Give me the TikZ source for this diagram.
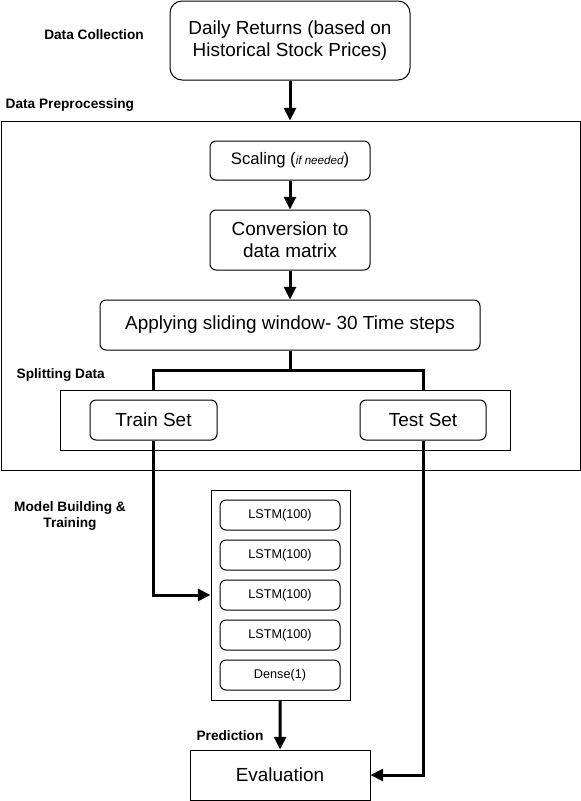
\documentclass[tikz,border=0pt]{standalone}
\usepackage{fontspec}
\setmainfont{Liberation Sans}
\usetikzlibrary{arrows.meta}

\begin{document}
\begin{tikzpicture}[x=0.75pt, y=-0.75pt,
		box/.style={draw, line width=0.75pt, rounded corners=4.5pt, align=center, inner sep=0pt, font=\fontsize{14.2}{16.5}\selectfont},
		frame/.style={draw, line width=0.75pt, inner sep=0pt},
		tag/.style={font=\fontsize{10.25}{12}\selectfont\bfseries, align=center},
		flow/.style={line width=2.25pt, -{Triangle[length=9.5pt, width=9pt]}},
		link/.style={line width=2.25pt}]
					\useasboundingbox (0,0) rectangle (581,801);

					\begin{scope}
						\node[box, rounded corners=9pt, minimum width=180pt, minimum height=59.25pt] (daily) at (290,40.5) {Daily Returns (based on\\Historical Stock Prices)};
						\node[frame, minimum width=434.25pt, minimum height=261.75pt] (prep) at (290.5,295.5) {};
						\node[box, minimum width=120pt, minimum height=29.25pt, font=\fontsize{12.5}{15}\selectfont] (scaling) at (290,160.5) {Scaling ({\fontsize{8.7}{10}\selectfont\itshape if needed})};
						\node[box, minimum width=120pt, minimum height=45pt] (matrix) at (290,240) {Conversion to\\data matrix};
						\node[box, minimum width=285pt, minimum height=37.5pt] (window) at (290,325) {Applying sliding window- 30 Time steps};
						\node[frame, minimum width=337.5pt, minimum height=45pt] (split) at (285,420) {};
						\node[box, minimum width=95.25pt, minimum height=30pt] (train) at (153.5,420) {Train Set};
						\node[box, minimum width=94.5pt, minimum height=30pt] (test) at (423,420) {Test Set};
						\node[frame, minimum width=104.25pt, minimum height=157.5pt] (model) at (280.5,595) {};
						\node[frame, minimum width=135pt, minimum height=37.5pt, font=\fontsize{14.2}{16.5}\selectfont] (eval) at (280,775) {Evaluation};
					\end{scope}

					\begin{scope}
						\foreach \name/\y/\txt in {lstmA/515/LSTM(100), lstmB/555/LSTM(100), lstmC/595/LSTM(100), lstmD/635/LSTM(100), dense/675/Dense(1)}
						{
							\node[box, font=\fontsize{9.5}{11}\selectfont, minimum width=90pt, minimum height=22.5pt] (\name) at (280,\y) {\txt};
						}
					\end{scope}

					\begin{scope}
						\node[tag] (collectlabel) at (94,35) {Data Collection};
						\node[tag, anchor=west] (preplabel) at (1,105) {Data Preprocessing};
						\node[tag, anchor=west] (splitlabel) at (12,375) {Splitting Data};
						\node[tag] (modellabel) at (70,516) {Model Building \&\\Training};
						\node[tag] (predictlabel) at (230,736) {Prediction};
					\end{scope}

					\begin{scope}
						\coordinate (fork) at (290,370);
						\draw[flow] (daily.south) -- (daily.south |- prep.north);
						\draw[flow] (scaling) -- (matrix);
						\draw[flow] (matrix) -- (window);
						\draw[link] (window) -- (fork);
						\draw[link] (train |- split.north) |- (fork) -| (test |- split.north);
						\draw[flow] (train) |- (model.west);
						\draw[flow] (model) -- (eval);
						\draw[flow] (test) |- (eval.east);
					\end{scope}
				\end{tikzpicture}
\end{document}
